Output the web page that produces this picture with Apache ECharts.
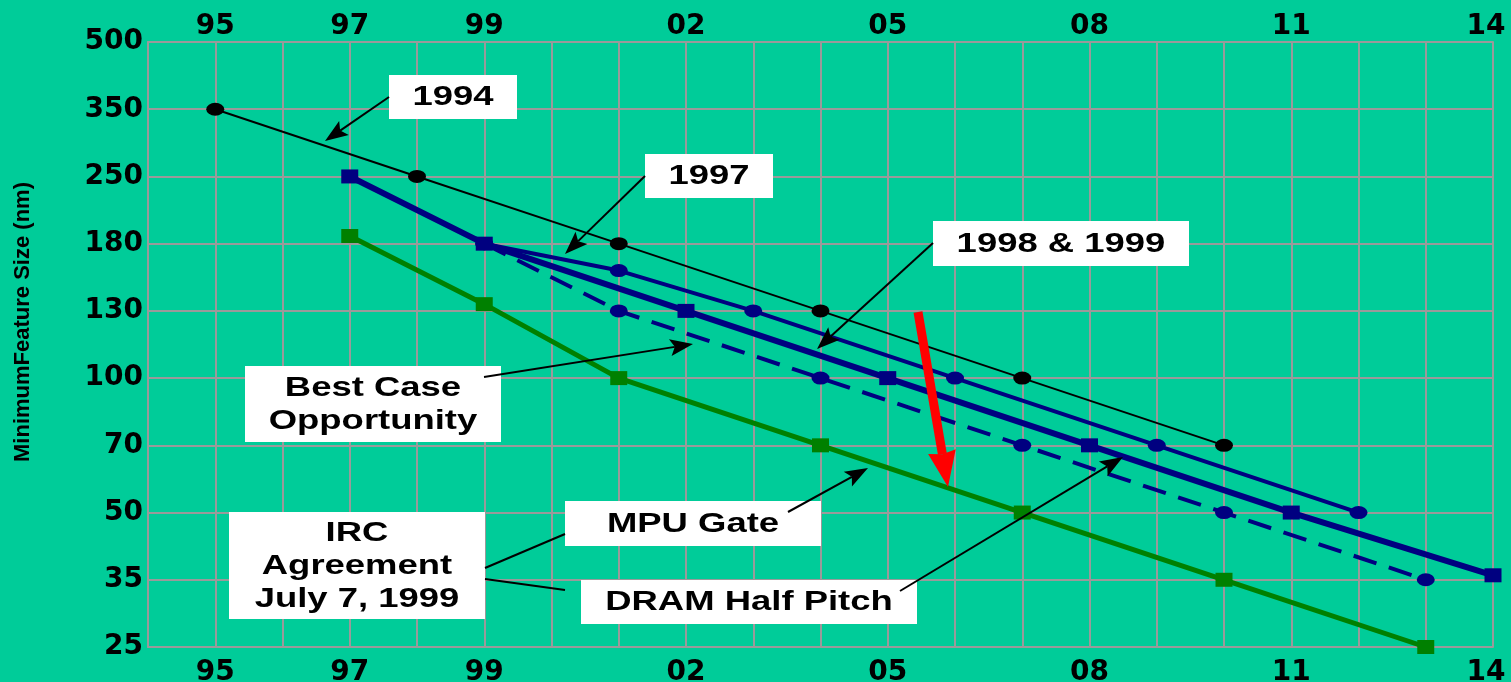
<!DOCTYPE html>
<html>
<head>
<meta charset="utf-8">
<title>Minimum Feature Size Roadmaps</title>
<script src="https://cdn.jsdelivr.net/npm/echarts@6/dist/echarts.min.js"></script>
<style>
  html, body { margin: 0; padding: 0; background: #00CC99; }
  #chart { width: 1511px; height: 682px; }
</style>
</head>
<body>
<div id="chart"></div>
<script>
// Feature-size ticks (nm), bottom to top; the axis spaces them evenly
const yTicks = [25, 35, 50, 70, 100, 130, 180, 250, 350, 500];
// Years that carry a label on the top and bottom axes
const xLabelYears = [1995, 1997, 1999, 2002, 2005, 2008, 2011, 2014];

// 1994 roadmap
const ntrs1994Years = [1995, 1998, 2001, 2004, 2007, 2010];
const ntrs1994Nm = [350, 250, 180, 130, 100, 70];
// 1997 roadmap
const ntrs1997Years = [1999, 2001, 2003, 2006, 2009, 2012];
const ntrs1997Nm = [180, 160, 130, 100, 70, 50];
// 1998 & 1999 roadmap, DRAM half pitch
const dramYears = [1997, 1999, 2002, 2005, 2008, 2011, 2014];
const dramNm = [250, 180, 130, 100, 70, 50, 36];
// Best case opportunity
const bestYears = [1999, 2001, 2004, 2007, 2010, 2013];
const bestNm = [180, 130, 100, 70, 50, 35];
// MPU gate length
const mpuYears = [1997, 1999, 2001, 2004, 2007, 2010, 2013];
const mpuNm = [188, 135, 100, 70, 50, 35, 25];

// Map a size in nm onto the evenly spaced tick scale (tick index units)
function toAxis(nm) {
  for (let i = 0; i < yTicks.length - 1; i++) {
    if (nm >= yTicks[i] && nm <= yTicks[i + 1]) {
      return i + (nm - yTicks[i]) / (yTicks[i + 1] - yTicks[i]);
    }
  }
  return nm < yTicks[0] ? 0 : yTicks.length - 1;
}
function pairs(years, nm) {
  return years.map((y, i) => [y, toAxis(nm[i])]);
}

const NAVY = '#000080';
const GREEN = '#008000';
const GRID = '#9A9A9A';
const LABEL_FONT = { fontFamily: 'DejaVu Sans', fontWeight: 'bold', fontSize: 28, color: '#000' };
const BOX_FONT = 'bold 27px "Liberation Sans", Arial, sans-serif';

const lastYear = xLabelYears[xLabelYears.length - 1];
// Two-digit year labels; the last one is nudged inward so it stays on the canvas
const xLabel = v => {
  if (xLabelYears.indexOf(v) < 0) return '';
  const s = String(v).slice(2);
  return v === lastYear ? '{edge|' + s + '}' : s;
};
const xRich = { edge: Object.assign({ padding: [0, 14, 0, 0] }, LABEL_FONT) };

// Callout boxes: [left, top, right, bottom] and their text
const callouts = [
  { box: [389, 75, 517, 119], text: '1994' },
  { box: [645, 154, 773, 198], text: '1997' },
  { box: [933, 221, 1189, 266], text: '1998 & 1999' },
  { box: [245, 366, 501, 442], text: 'Best Case\nOpportunity' },
  { box: [229, 512, 485, 619], text: 'IRC\nAgreement\nJuly 7, 1999' },
  { box: [565, 501, 821, 546], text: 'MPU Gate' },
  { box: [581, 580, 917, 624], text: 'DRAM Half Pitch' }
];
// Leader lines: start, end, whether the end carries an arrowhead
const leaders = [
  { from: [389, 97], to: [325, 141], head: true },
  { from: [645, 176], to: [565, 254], head: true },
  { from: [933, 243], to: [817, 349], head: true },
  { from: [484, 377], to: [693, 344], head: true },
  { from: [485, 568], to: [565, 534], head: false },
  { from: [485, 579], to: [565, 590], head: false },
  { from: [788, 512], to: [868, 468], head: true },
  { from: [900, 591], to: [1123, 457], head: true }
];
const bigArrow = { from: [918, 312], to: [948, 487] };

function arrowHead(from, to, len, width, notch) {
  const dx = to[0] - from[0], dy = to[1] - from[1];
  const d = Math.hypot(dx, dy);
  const ux = dx / d, uy = dy / d, nx = -uy, ny = ux;
  const bx = to[0] - ux * len, by = to[1] - uy * len;
  return {
    base: [to[0] - ux * len * notch, to[1] - uy * len * notch],
    points: [
      to,
      [bx + nx * width / 2, by + ny * width / 2],
      [to[0] - ux * len * notch, to[1] - uy * len * notch],
      [bx - nx * width / 2, by - ny * width / 2]
    ]
  };
}

const graphics = [];
callouts.forEach(c => {
  const [l, t, r, b] = c.box;
  graphics.push({
    type: 'rect', z: 100,
    shape: { x: l, y: t, width: r - l, height: b - t },
    style: { fill: '#FFFFFF' }
  });
  graphics.push({
    type: 'text', z: 101,
    x: (l + r) / 2, y: (t + b) / 2 + 1, scaleX: 1.35,
    style: {
      text: c.text, font: BOX_FONT, fill: '#000',
      align: 'center', verticalAlign: 'middle', lineHeight: 33
    }
  });
});
leaders.forEach(ld => {
  let end = ld.to;
  if (ld.head) {
    const h = arrowHead(ld.from, ld.to, 23, 17, 0.8);
    end = h.base;
    graphics.push({ type: 'polygon', z: 103, shape: { points: h.points }, style: { fill: '#000' } });
  }
  graphics.push({
    type: 'line', z: 102,
    shape: { x1: ld.from[0], y1: ld.from[1], x2: end[0], y2: end[1] },
    style: { stroke: '#000', lineWidth: 2 }
  });
});
{
  const h = arrowHead(bigArrow.from, bigArrow.to, 36, 28, 0.92);
  graphics.push({
    type: 'line', z: 104,
    shape: { x1: bigArrow.from[0], y1: bigArrow.from[1], x2: h.base[0], y2: h.base[1] },
    style: { stroke: '#FF0000', lineWidth: 9 }
  });
  graphics.push({ type: 'polygon', z: 104, shape: { points: h.points }, style: { fill: '#FF0000' } });
}
graphics.push({
  type: 'text', z: 100, x: 23, y: 322, rotation: Math.PI / 2,
  style: {
    text: 'MinimumFeature Size (nm)',
    font: 'bold 22px "Liberation Sans", Arial, sans-serif',
    fill: '#000', align: 'center', verticalAlign: 'middle'
  }
});

const xBase = {
  type: 'value', min: 1994, max: 2014, interval: 1,
  axisTick: { show: false },
  axisLine: { show: true, lineStyle: { color: GRID, width: 2 } }
};

const chart = echarts.init(document.getElementById('chart'));
chart.setOption({
  backgroundColor: '#00CC99',
  animation: false,
  grid: { left: 148, right: 18, top: 42, bottom: 35, containLabel: false, outerBoundsMode: 'none' },
  xAxis: [
    Object.assign({}, xBase, {
      position: 'bottom',
      splitLine: { show: true, lineStyle: { color: GRID, width: 2 } },
      axisLabel: Object.assign({ formatter: xLabel, rich: xRich, margin: 12 }, LABEL_FONT)
    }),
    Object.assign({}, xBase, {
      position: 'top',
      splitLine: { show: false },
      axisLabel: Object.assign({ formatter: xLabel, rich: xRich, margin: 1 }, LABEL_FONT)
    })
  ],
  yAxis: {
    type: 'value', min: 0, max: yTicks.length - 1, interval: 1,
    axisTick: { show: false },
    axisLine: { show: true, lineStyle: { color: GRID, width: 2 } },
    splitLine: { show: true, lineStyle: { color: GRID, width: 2 } },
    axisLabel: Object.assign({ formatter: v => String(yTicks[v]), margin: 5 }, LABEL_FONT)
  },
  series: [
    {
      name: '1994', type: 'line', data: pairs(ntrs1994Years, ntrs1994Nm),
      lineStyle: { color: '#000', width: 2 }, itemStyle: { color: '#000' },
      symbol: 'circle', symbolSize: [18, 13], z: 3
    },
    {
      name: '1997', type: 'line', data: pairs(ntrs1997Years, ntrs1997Nm),
      lineStyle: { color: NAVY, width: 4 }, itemStyle: { color: NAVY },
      symbol: 'circle', symbolSize: [18, 13], z: 4
    },
    {
      name: 'Best Case Opportunity', type: 'line', data: pairs(bestYears, bestNm),
      lineStyle: { color: NAVY, width: 4, type: [24, 13] }, itemStyle: { color: NAVY },
      symbol: 'circle', symbolSize: [18, 13], z: 4
    },
    {
      name: 'DRAM Half Pitch', type: 'line', data: pairs(dramYears, dramNm),
      lineStyle: { color: NAVY, width: 6 }, itemStyle: { color: NAVY },
      symbol: 'rect', symbolSize: [17, 14], z: 5, clip: false
    },
    {
      name: 'MPU Gate', type: 'line', data: pairs(mpuYears, mpuNm),
      lineStyle: { color: GREEN, width: 5 }, itemStyle: { color: GREEN },
      symbol: 'rect', symbolSize: [17, 14], z: 5, clip: false
    }
  ],
  graphic: graphics
});
</script>
</body>
</html>
